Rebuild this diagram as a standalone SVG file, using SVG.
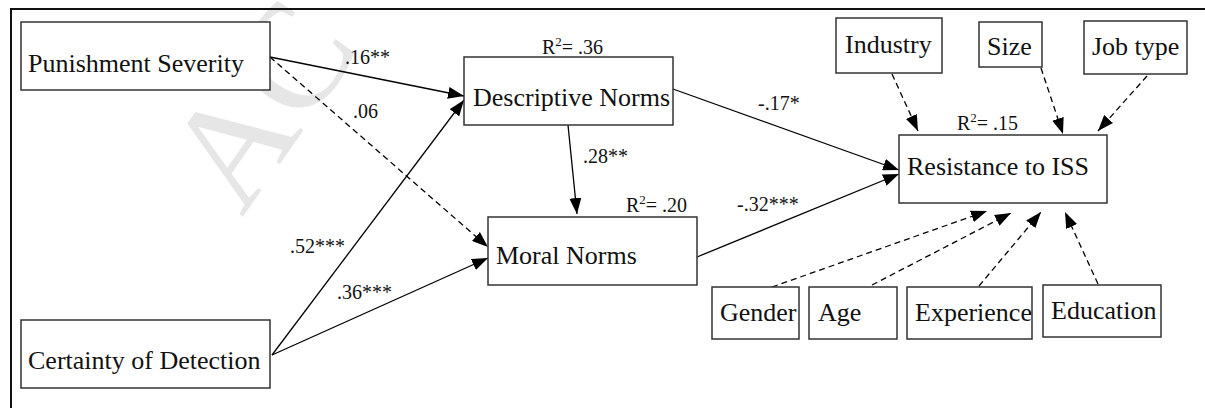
<svg xmlns="http://www.w3.org/2000/svg" width="1205" height="408" viewBox="0 0 1205 408">
<style>
  .box { fill: #ffffff; stroke: #333333; stroke-width: 1.5; }
  .lbl { font-family: "Liberation Serif", "Times New Roman", serif; font-size: 26px; fill: #111111; }
  .coef { font-family: "Liberation Serif", "Times New Roman", serif; font-size: 20px; fill: #111111; }
  .edge { fill: none; stroke: #000000; stroke-width: 1.3; marker-end: url(#ah); }
  .dash { stroke-dasharray: 6 4; }
  .wm { font-family: "Liberation Serif", "Times New Roman", serif; font-size: 150px; fill: #e6e6e6; }
</style>
<defs>
  <marker id="ah" viewBox="0 0 16 12" refX="16" refY="6" markerWidth="16" markerHeight="12" markerUnits="userSpaceOnUse" orient="auto">
    <path d="M0,0 L16,6 L0,12 z" fill="#000000"/>
  </marker>
</defs>
<rect width="1205" height="408" fill="#ffffff"/>
<text class="wm" transform="translate(242,218) rotate(-55)">AC</text>
<path d="M11,408 L11,9 L1205,9" fill="none" stroke="#111111" stroke-width="2"/>

<g id="connectors">
  <path class="edge" d="M270,57 L464,96"/>
  <path class="edge dash" d="M270,57 L488,247"/>
  <path class="edge" d="M272,355 L464,100"/>
  <path class="edge" d="M272,355 L488,258"/>
  <path class="edge" d="M568,125 L577,214"/>
  <path class="edge" d="M673,89 L899,170"/>
  <path class="edge" d="M697,257 L899,174"/>
  <path class="edge dash" d="M892,74 L918,131"/>
  <path class="edge dash" d="M1041,68 L1063,134"/>
  <path class="edge dash" d="M1147,76 L1098,131"/>
  <path class="edge dash" d="M772,287 L987,211"/>
  <path class="edge dash" d="M872,285 L1011,213"/>
  <path class="edge dash" d="M979,286 L1041,212"/>
  <path class="edge dash" d="M1098,284 L1065,212"/>
  <text class="coef" x="345" y="64">.16**</text>
  <text class="coef" x="353" y="118">.06</text>
  <text class="coef" x="290" y="253">.52***</text>
  <text class="coef" x="337" y="299">.36***</text>
  <text class="coef" x="583" y="163">.28**</text>
  <text class="coef" x="758" y="110">-.17*</text>
  <text class="coef" x="737" y="211">-.32***</text>
</g>

<g id="punishment">
  <rect class="box" x="21" y="22" width="249" height="68"/>
  <text class="lbl" x="28" y="72">Punishment Severity</text>
</g>
<g id="certainty">
  <rect class="box" x="21" y="320" width="249" height="68"/>
  <text class="lbl" x="28" y="369">Certainty of Detection</text>
</g>
<g id="descriptive">
  <rect class="box" x="464" y="57" width="209" height="68"/>
  <text class="lbl" x="473" y="106">Descriptive Norms</text>
  <text class="coef" x="542" y="54">R<tspan dy="-8" font-size="13">2</tspan><tspan dy="8">= .36</tspan></text>
</g>
<g id="moral">
  <rect class="box" x="488" y="217" width="209" height="68"/>
  <text class="lbl" x="496" y="264">Moral Norms</text>
  <text class="coef" x="626" y="212">R<tspan dy="-8" font-size="13">2</tspan><tspan dy="8">= .20</tspan></text>
</g>
<g id="resistance">
  <rect class="box" x="899" y="135" width="208" height="68"/>
  <text class="lbl" x="907" y="175">Resistance to ISS</text>
  <text class="coef" x="957" y="130">R<tspan dy="-8" font-size="13">2</tspan><tspan dy="8">= .15</tspan></text>
</g>
<g id="industry">
  <rect class="box" x="836" y="18" width="106" height="55"/>
  <text class="lbl" x="845" y="53">Industry</text>
</g>
<g id="size">
  <rect class="box" x="979" y="22" width="63" height="45"/>
  <text class="lbl" x="987" y="55">Size</text>
</g>
<g id="jobtype">
  <rect class="box" x="1084" y="21" width="103" height="53"/>
  <text class="lbl" x="1092" y="55">Job type</text>
</g>
<g id="gender">
  <rect class="box" x="712" y="287" width="87" height="52"/>
  <text class="lbl" x="720" y="321">Gender</text>
</g>
<g id="age">
  <rect class="box" x="809" y="287" width="88" height="52"/>
  <text class="lbl" x="818" y="321">Age</text>
</g>
<g id="experience">
  <rect class="box" x="907" y="287" width="125" height="52"/>
  <text class="lbl" x="915" y="321">Experience</text>
</g>
<g id="education">
  <rect class="box" x="1043" y="285" width="118" height="52"/>
  <text class="lbl" x="1051" y="319">Education</text>
</g>
</svg>
